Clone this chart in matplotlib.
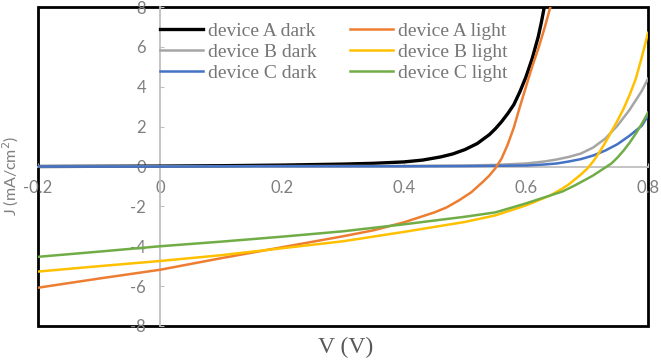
import numpy as np
import matplotlib
matplotlib.use("Agg")
import matplotlib.pyplot as plt
from matplotlib.patches import Rectangle

# J-V data (V in volts, J in mA/cm2)
v_a_dark = [-0.2, 0.0, 0.1, 0.2, 0.3, 0.35, 0.4, 0.43, 0.46, 0.48, 0.5, 0.52, 0.54, 0.55, 0.56, 0.57,
            0.58, 0.59, 0.60, 0.61, 0.62, 0.625, 0.63]
j_a_dark = [0.0, 0.02, 0.04, 0.07, 0.12, 0.16, 0.23, 0.32, 0.48, 0.63, 0.85, 1.15, 1.6, 1.9, 2.25, 2.65,
            3.1, 3.75, 4.5, 5.4, 6.5, 7.2, 8.0]

v_a_light = [-0.2, -0.1, 0.0, 0.1, 0.2, 0.3, 0.35, 0.4, 0.45, 0.47, 0.49, 0.51, 0.53, 0.54, 0.55, 0.56,
             0.57, 0.58, 0.59, 0.60, 0.61, 0.62, 0.63, 0.64]
j_a_light = [-6.08, -5.62, -5.18, -4.6, -4.05, -3.5, -3.2, -2.8, -2.3, -2.05, -1.7, -1.3, -0.75, -0.45, -0.08, 0.4,
             1.1, 1.95, 3.0, 4.0, 5.0, 5.9, 6.9, 8.0]

v_b_dark = [-0.2, 0.0, 0.2, 0.4, 0.5, 0.55, 0.6, 0.63, 0.65, 0.67, 0.69, 0.71, 0.73, 0.75, 0.77, 0.79, 0.80]
j_b_dark = [0.0, 0.01, 0.02, 0.03, 0.05, 0.08, 0.15, 0.25, 0.35, 0.48, 0.65, 0.95, 1.4, 2.05, 2.85, 3.8, 4.4]

v_b_light = [-0.2, -0.1, 0.0, 0.1, 0.2, 0.3, 0.4, 0.5, 0.55, 0.6, 0.64, 0.66, 0.67, 0.68, 0.69, 0.70,
             0.71, 0.72, 0.73, 0.74, 0.75, 0.76, 0.77, 0.78, 0.79, 0.80]
j_b_light = [-5.27, -5.0, -4.74, -4.45, -4.1, -3.75, -3.28, -2.78, -2.45, -1.95, -1.45, -1.1, -0.9, -0.65, -0.4, -0.12,
             0.25, 0.7, 1.2, 1.75, 2.3, 2.9, 3.6, 4.4, 5.5, 6.7]

v_c_dark = [-0.2, 0.0, 0.2, 0.4, 0.5, 0.6, 0.63, 0.65, 0.67, 0.69, 0.71, 0.73, 0.75, 0.77, 0.79, 0.80]
j_c_dark = [0.0, 0.0, 0.01, 0.01, 0.02, 0.05, 0.1, 0.15, 0.25, 0.37, 0.55, 0.8, 1.12, 1.55, 2.05, 2.55]

v_c_light = [-0.2, -0.1, 0.0, 0.1, 0.2, 0.3, 0.4, 0.5, 0.55, 0.6, 0.64, 0.66, 0.68, 0.70, 0.71, 0.72,
             0.73, 0.74, 0.75, 0.76, 0.77, 0.78, 0.79, 0.80]
j_c_light = [-4.53, -4.27, -4.0, -3.77, -3.52, -3.25, -2.9, -2.52, -2.3, -1.85, -1.45, -1.25, -0.95, -0.62, -0.45, -0.25,
             -0.05, 0.15, 0.45, 0.8, 1.2, 1.65, 2.15, 2.7]

xticks = [-0.2, 0.0, 0.2, 0.4, 0.6, 0.8]
xtick_labels = ["-0.2", "0", "0.2", "0.4", "0.6", "0.8"]
yticks = [-8, -6, -4, -2, 0, 2, 4, 6, 8]
ytick_labels = ["-8", "-6", "-4", "-2", "0", "2", "4", "6", "8"]

fig = plt.figure(figsize=(6.61, 3.64), dpi=100)
ax = fig.add_axes([38 / 661, 38 / 364, 610 / 661, 319 / 364])

ax.plot(v_a_dark, j_a_dark, color="#000000", lw=2.4, label="device A dark", zorder=3)
ax.plot(v_b_dark, j_b_dark, color="#A5A5A5", lw=1.8, label="device B dark", zorder=3)
ax.plot(v_c_dark, j_c_dark, color="#4472C4", lw=1.8, label="device C dark", zorder=3)
ax.plot(v_a_light, j_a_light, color="#ED7D31", lw=1.8, label="device A light", zorder=3)
ax.plot(v_b_light, j_b_light, color="#FFC000", lw=1.8, label="device B light", zorder=3)
ax.plot(v_c_light, j_c_light, color="#70AD47", lw=1.8, label="device C light", zorder=3)

ax.set_xlim(-0.2, 0.8)
ax.set_ylim(-8, 8)

# axis lines cross at the origin, outer black frame
for s in ["top", "right"]:
    ax.spines[s].set_visible(False)
ax.spines["left"].set_position(("data", 0))
ax.spines["bottom"].set_position(("data", 0))
for s in ["left", "bottom"]:
    ax.spines[s].set_color("#BFBFBF")
    ax.spines[s].set_linewidth(1.3)
ax.add_patch(Rectangle((0, 0), 1, 1, transform=ax.transAxes, fill=False,
                       ec="black", lw=2, clip_on=False, zorder=1))

ax.set_xticks(xticks)
ax.set_xticklabels(xtick_labels)
ax.set_yticks(yticks)
ax.set_yticklabels(ytick_labels)
ax.tick_params(direction="in", length=3, color="#BFBFBF", labelcolor="#7F7F7F",
               labelsize=12, pad=10)
for lab in ax.get_xticklabels() + ax.get_yticklabels():
    lab.set_family("Lato")

leg = ax.legend(ncol=2, frameon=False, loc="upper left",
                bbox_to_anchor=(160 / 661, 1 - 22 / 364), bbox_transform=fig.transFigure,
                borderpad=0, borderaxespad=0, labelspacing=0.18, handlelength=2.2,
                handletextpad=0.25, columnspacing=1.75,
                prop={"family": "Liberation Serif", "size": 14})
for t in leg.get_texts():
    t.set_color("#767676")

fig.text(11 / 661, 1 - 176 / 364, "J (mA/cm$^2$)", rotation=90, ha="center", va="center",
         color="#7F7F7F", fontsize=11.5, family="Lato")
fig.text(346 / 661, 1 - 347 / 364, "V (V)", ha="center", va="center",
         color="#595959", fontsize=17, family="Liberation Serif")

fig.savefig("out.png", dpi=100)
